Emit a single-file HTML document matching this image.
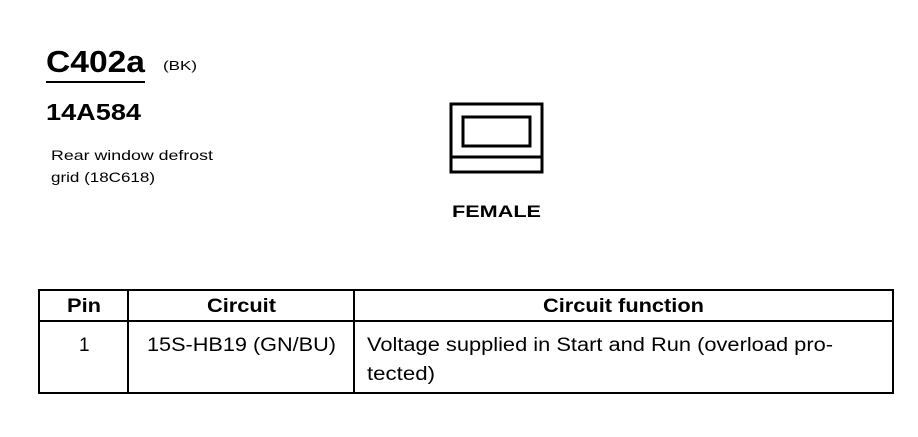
<!DOCTYPE html>
<html><head><meta charset="utf-8"><style>
body{margin:0;background:#fff;width:918px;height:432px;overflow:hidden}
text{font-family:"Liberation Sans",Arial,sans-serif;fill:#000}
</style></head><body>
<svg width="918" height="432" viewBox="0 0 918 432" xmlns="http://www.w3.org/2000/svg">
<text x="46" y="72" font-size="31" font-weight="bold" textLength="99" lengthAdjust="spacingAndGlyphs">C402a</text>
<text x="163" y="70" font-size="13" textLength="34" lengthAdjust="spacingAndGlyphs">(BK)</text>
<line x1="46" y1="82" x2="145" y2="82" stroke="#000" stroke-width="2"/>
<text x="46" y="120" font-size="23" font-weight="bold" textLength="95" lengthAdjust="spacingAndGlyphs">14A584</text>
<text x="51" y="160" font-size="14" textLength="162" lengthAdjust="spacingAndGlyphs">Rear window defrost</text>
<text x="51" y="182" font-size="14" textLength="104" lengthAdjust="spacingAndGlyphs">grid (18C618)</text>
<g fill="none" stroke="#000" stroke-width="3">
<rect x="451" y="104" width="91" height="68"/>
<rect x="463" y="117" width="67" height="29"/>
<line x1="451" y1="157" x2="542" y2="157"/>
</g>
<text x="452" y="217" font-size="17" font-weight="bold" textLength="89" lengthAdjust="spacingAndGlyphs">FEMALE</text>
<g fill="none" stroke="#000" stroke-width="2">
<rect x="39" y="290" width="854" height="103"/>
<line x1="39" y1="321" x2="893" y2="321"/>
<line x1="128" y1="290" x2="128" y2="393"/>
<line x1="354" y1="290" x2="354" y2="393"/>
</g>
<text x="67" y="312" font-size="19" font-weight="bold" textLength="34" lengthAdjust="spacingAndGlyphs">Pin</text>
<text x="207" y="312" font-size="19" font-weight="bold" textLength="69" lengthAdjust="spacingAndGlyphs">Circuit</text>
<text x="543" y="312" font-size="19" font-weight="bold" textLength="161" lengthAdjust="spacingAndGlyphs">Circuit function</text>
<text x="79" y="351" font-size="19">1</text>
<text x="147" y="351" font-size="19" textLength="189" lengthAdjust="spacingAndGlyphs">15S-HB19 (GN/BU)</text>
<text x="367" y="351" font-size="19" textLength="466" lengthAdjust="spacingAndGlyphs">Voltage supplied in Start and Run (overload pro-</text>
<text x="367" y="380" font-size="19" textLength="68" lengthAdjust="spacingAndGlyphs">tected)</text>
</svg>
</body></html>
